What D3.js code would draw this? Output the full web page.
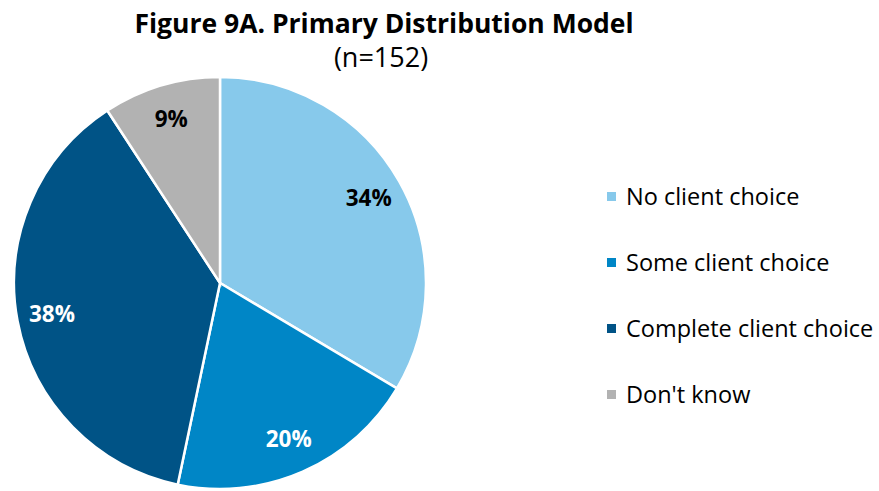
<!DOCTYPE html>
<html>
<head>
<meta charset="utf-8">
<script src="https://cdn.jsdelivr.net/npm/d3@7"></script>
<style>
  body { margin: 0; background: #fff; }
  text { font-family: "Open Sans", "Noto Sans", sans-serif; }
</style>
</head>
<body>
<div id="chart"></div>
<script>
// data (counts out of n=152)
const categories = ["No client choice", "Some client choice", "Complete client choice", "Don't know"];
const counts = [51, 30, 57, 14];
const pctLabels = ["34%", "20%", "38%", "9%"];
const colors = ["#87C9EB", "#0086C6", "#005386", "#B2B2B2"];
const labelColors = ["#000", "#fff", "#fff", "#000"];

const width = 879, height = 491;
const cx = 220, cy = 283, radius = 206;

const svg = d3.select("#chart").append("svg")
  .attr("width", width)
  .attr("height", height);

// title
svg.append("text")
  .attr("x", 384).attr("y", 33)
  .attr("text-anchor", "middle")
  .style("font-weight", "bold")
  .style("font-size", "26.5px")
  .text("Figure 9A. Primary Distribution Model");
svg.append("text")
  .attr("x", 381).attr("y", 67)
  .attr("text-anchor", "middle")
  .style("font-size", "27px")
  .text("(n=152)");

const pie = d3.pie().sort(null).value(d => d);
const arcs = pie(counts);
const arc = d3.arc().innerRadius(0).outerRadius(radius);
const labelArc = d3.arc().innerRadius(radius * 0.83).outerRadius(radius * 0.83);

const g = svg.append("g").attr("transform", `translate(${cx},${cy})`);

g.selectAll("path")
  .data(arcs)
  .enter()
  .append("path")
  .attr("d", arc)
  .style("fill", (d, i) => colors[i])
  .style("stroke", "#fff")
  .style("stroke-width", 2.5);

g.selectAll(".lbl")
  .data(arcs)
  .enter()
  .append("text")
  .attr("class", "lbl")
  .attr("transform", d => `translate(${labelArc.centroid(d)})`)
  .attr("text-anchor", "middle")
  .attr("dy", "0.35em")
  .style("font-weight", "bold")
  .style("font-size", "22.5px")
  .style("fill", (d, i) => labelColors[i])
  .text((d, i) => pctLabels[i]);

// legend
const legendY = d3.scalePoint().domain(categories).range([197, 395]);
const legend = svg.append("g");
const rows = legend.selectAll("g")
  .data(categories)
  .enter()
  .append("g")
  .attr("transform", d => `translate(607,${legendY(d)})`);
rows.append("rect")
  .attr("x", 0).attr("y", -5)
  .attr("width", 9).attr("height", 9)
  .style("fill", (d, i) => colors[i]);
rows.append("text")
  .attr("x", 19)
  .attr("dy", "0.35em")
  .style("font-size", "23.5px")
  .style("fill", "#000")
  .text(d => d);
</script>
</body>
</html>
